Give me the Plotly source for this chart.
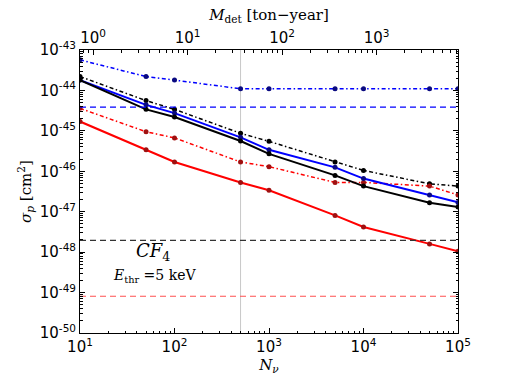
import numpy as np
import plotly.graph_objects as go

# number of neutrino events
n_nu = [10, 50, 100, 500, 1000, 5000, 1e4, 5e4, 1e5]

# sigma_p [cm^2] curves
blue_dashdot = [5.7e-44, 2.2e-44, 1.8e-44, 1.1e-44, 1.1e-44, 1.1e-44, 1.1e-44, 1.1e-44, 1.1e-44]
black_dashdot = [2.2e-44, 5.6e-45, 3.4e-45, 8.7e-46, 5.5e-46, 1.7e-46, 1.05e-46, 4.9e-47, 4.3e-47]
blue_solid = [1.8e-44, 4.4e-45, 2.75e-45, 6.9e-46, 3.4e-46, 1.25e-46, 6.6e-47, 2.6e-47, 1.7e-47]
black_solid = [1.8e-44, 3.4e-45, 2.2e-45, 5.6e-46, 2.7e-46, 7.9e-47, 4.3e-47, 1.66e-47, 1.3e-47]
red_dashdot = [3.6e-45, 9.5e-46, 6.7e-46, 1.7e-46, 1.3e-46, 5.3e-47, 5.3e-47, 4.3e-47, 2.6e-47]
red_solid = [1.7e-45, 3.4e-46, 1.7e-46, 5.3e-47, 3.4e-47, 8.1e-48, 4.2e-48, 1.6e-48, 1.05e-48]

# horizontal reference levels
blue_level = 3.85e-45
black_level = 1.95e-48
red_level = 8.1e-50

n_cut = 500
ton_year_per_event = 0.0728

x_ticks = [10, 100, 1000, 1e4, 1e5]
x_labels = ["10<sup>1</sup>", "10<sup>2</sup>", "10<sup>3</sup>", "10<sup>4</sup>", "10<sup>5</sup>"]
m_ticks = [1, 10, 100, 1000]
m_labels = ["10<sup>0</sup>", "10<sup>1</sup>", "10<sup>2</sup>", "10<sup>3</sup>"]
y_exps = list(range(-50, -42))
y_ticks = [10.0 ** e for e in y_exps]
y_labels = ["10<sup>%d</sup>" % e for e in y_exps]


def minor_vals(e0, e1):
    return [d * 10.0 ** e for e in range(e0, e1) for d in range(2, 10)]


fig = go.Figure()

dashdot = "4px,2.5px,1.5px,2.5px"
curves = [
    (blue_dashdot, "blue", "#0a0a80", dashdot, 1.5),
    (black_dashdot, "black", "black", dashdot, 1.5),
    (red_dashdot, "red", "#a01010", dashdot, 1.5),
    (blue_solid, "blue", "#0a0a80", "solid", 2),
    (black_solid, "black", "black", "solid", 2),
    (red_solid, "red", "#a01010", "solid", 2),
]
for ys, lc, mc, dash, w in curves:
    fig.add_trace(go.Scatter(
        x=n_nu, y=ys, mode="lines+markers",
        line=dict(color=lc, dash=dash, width=w),
        marker=dict(color=mc, size=5),
        showlegend=False,
    ))

for level, col in [(blue_level, "blue"), (black_level, "#333333"), (red_level, "#ff5050")]:
    fig.add_trace(go.Scatter(
        x=[n_nu[0], n_nu[-1]], y=[level, level], mode="lines",
        line=dict(color=col, dash="6px,4px", width=1.2), showlegend=False,
    ))

# invisible trace for the top axis (detector exposure)
m_det = [n * ton_year_per_event for n in n_nu]
fig.add_trace(go.Scatter(x=m_det, y=blue_dashdot, xaxis="x2", mode="markers",
                         marker=dict(opacity=0), showlegend=False, hoverinfo="skip"))

fig.add_shape(type="line", x0=n_cut, x1=n_cut, y0=0, y1=1, yref="paper",
              line=dict(color="#c8c8c8", width=1), layer="below")

tick_font = dict(family="DejaVu Sans", size=15, color="black")
title_font = dict(family="DejaVu Serif", size=15, color="black")
axis_common = dict(
    type="log", showgrid=False, zeroline=False, automargin=False,
    showline=True, linecolor="black", linewidth=1,
    ticks="inside", ticklen=5, tickcolor="black",
    tickfont=tick_font,
)


def minor(vals):
    return dict(ticks="inside", ticklen=2.5, tickcolor="black", showgrid=False,
                tickmode="array", tickvals=vals)


fig.update_layout(
    width=509, height=382,
    margin=dict(l=80, r=51, t=50, b=49),
    paper_bgcolor="white", plot_bgcolor="white",
    font=dict(color="black"),
    xaxis=dict(axis_common, range=[1, 5], tickvals=x_ticks, ticktext=x_labels,
               minor=minor(minor_vals(1, 5)),
               title=dict(text="<i>N</i><sub><i>ν</i></sub>", standoff=2, font=title_font)),
    xaxis2=dict(axis_common, overlaying="x", side="top", anchor="y",
                range=[np.log10(10 * ton_year_per_event), np.log10(1e5 * ton_year_per_event)],
                tickvals=m_ticks, ticktext=m_labels,
                minor=minor(minor_vals(-1, 4)),
                title=dict(text="<i>M</i><sub>det</sub> [ton−year]", standoff=2, font=title_font)),
    yaxis=dict(axis_common, range=[-50, -43], tickvals=y_ticks, ticktext=y_labels,
               mirror="ticks", minor=minor(minor_vals(-50, -43)),
               title=dict(text="<i>σ</i><sub><i>p</i></sub> [cm<sup>2</sup>]", standoff=4,
                          font=title_font)),
)

fig.add_annotation(x=0.193, y=0.285, xref="paper", yref="paper", showarrow=False,
                   xanchor="center", yanchor="middle",
                   text="<i>CF</i><sub>4</sub>",
                   font=dict(family="DejaVu Serif", size=18, color="black"))
fig.add_annotation(x=0.198, y=0.2, xref="paper", yref="paper", showarrow=False,
                   xanchor="center", yanchor="middle",
                   text="<i>E</i><sub>thr</sub> =5 keV",
                   font=dict(family="DejaVu Serif", size=14, color="black"))

fig.write_html("out.html", config={"displayModeBar": False},
               post_script="document.body.style.margin='0';")
